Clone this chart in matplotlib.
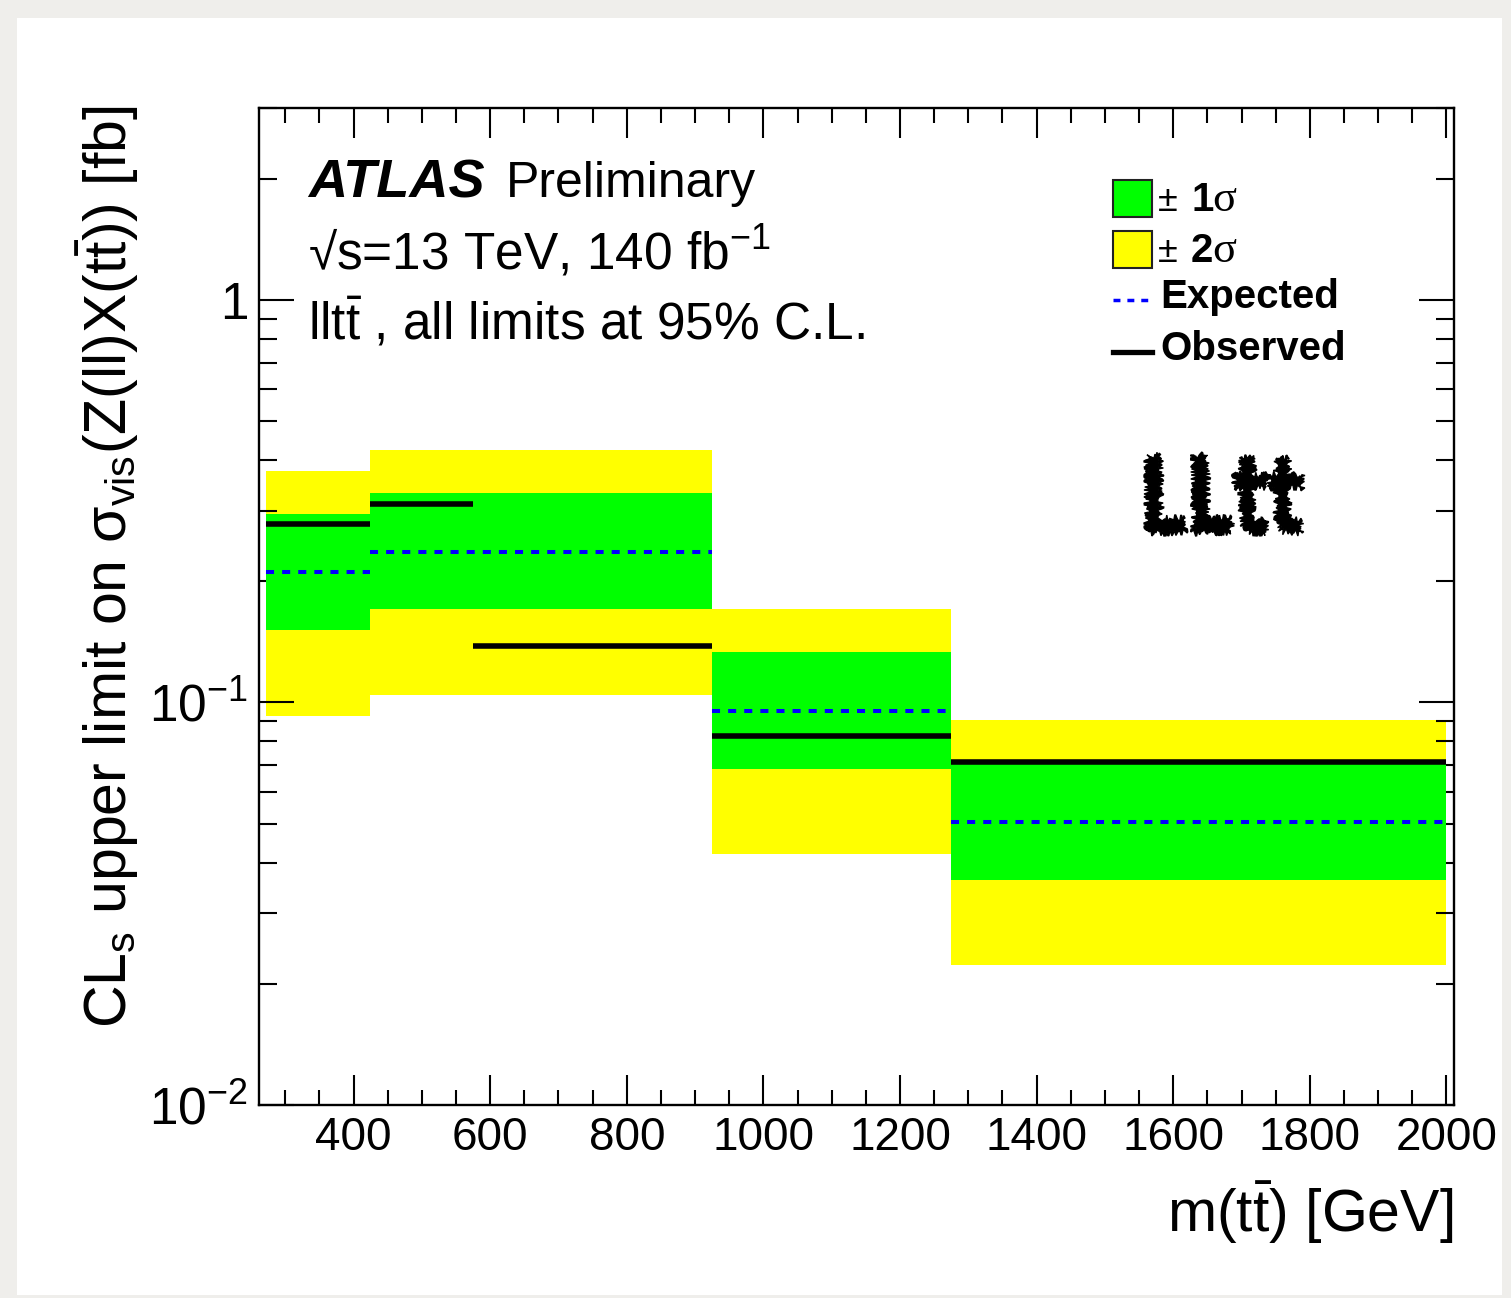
import matplotlib
matplotlib.use('Agg')
import matplotlib.pyplot as plt
import numpy as np
from matplotlib.patches import Rectangle, PathPatch
from matplotlib.lines import Line2D
from matplotlib.textpath import TextPath
from matplotlib.font_manager import FontProperties
from matplotlib.transforms import Affine2D
from matplotlib.ticker import FixedLocator, MultipleLocator, LogLocator, NullFormatter

plt.rcParams['font.family'] = ['Liberation Sans', 'DejaVu Sans']
plt.rcParams['mathtext.fontset'] = 'custom'
plt.rcParams['mathtext.rm'] = 'Liberation Sans'
plt.rcParams['mathtext.it'] = 'Liberation Sans:italic'
plt.rcParams['mathtext.bf'] = 'Liberation Sans:bold'

# m(tt) bin edges [GeV] and limits [fb]
obs_edges = [272, 424, 575, 925, 1275, 2000]
observed = [0.277, 0.312, 0.138, 0.0826, 0.0712]

band_edges = [272, 424, 925, 1275, 2000]
expected = [0.211, 0.237, 0.0954, 0.0504]
one_sigma_lo = [0.1517, 0.1706, 0.0684, 0.0362]
one_sigma_hi = [0.2946, 0.331, 0.1332, 0.0705]
two_sigma_lo = [0.0928, 0.1043, 0.042, 0.0222]
two_sigma_hi = [0.377, 0.424, 0.171, 0.0902]

x_ticks = [400, 600, 800, 1000, 1200, 1400, 1600, 1800, 2000]
y_ticks = [0.01, 0.1, 1]
y_tick_labels = ['$10^{-2}$', '$10^{-1}$', '1']

W, H = 1511, 1298
fig = plt.figure(figsize=(W / 100, H / 100), dpi=100)
fig.patch.set_facecolor('#efeeeb')


def px(x, y):
    # pixel position (from top-left) -> figure fraction
    return x / W, (H - y) / H


# white canvas
fig.add_artist(Rectangle(px(17, 1295), (1502 - 17) / W, (1295 - 18) / H,
                         transform=fig.transFigure, fc='white', ec='none', zorder=0))

x0, y0 = px(259.3, 1104.7)
x1, y1 = px(1454, 108.3)
ax = fig.add_axes([x0, y0, x1 - x0, y1 - y0])
ax.set_yscale('log')

def step(v):
    return np.append(v, v[-1])

ax.fill_between(band_edges, step(two_sigma_lo), step(two_sigma_hi), step='post',
                color='#ffff00', lw=0, zorder=1)
ax.fill_between(band_edges, step(one_sigma_lo), step(one_sigma_hi), step='post',
                color='#00ff00', lw=0, zorder=2)
ax.hlines(expected, band_edges[:-1], band_edges[1:], colors='#0000ff',
          linestyles=(0, (2, 2)), lw=2.9, zorder=3)
ax.hlines(observed, obs_edges[:-1], obs_edges[1:], colors='black', lw=4, zorder=4)

ax.set_xlim(262, 2011)
ax.set_ylim(0.01, 3)

ax.xaxis.set_major_locator(FixedLocator(x_ticks))
ax.xaxis.set_minor_locator(MultipleLocator(50))
ax.set_yticks(y_ticks)
ax.set_yticklabels(y_tick_labels)
ax.yaxis.set_minor_locator(LogLocator(base=10, subs=np.arange(2, 10)))
ax.yaxis.set_minor_formatter(NullFormatter())

ax.tick_params(which='both', direction='in', top=True, right=True, width=1.5,
               labelsize=33)
ax.tick_params(axis='x', which='major', length=21.6, pad=8)
ax.tick_params(axis='x', which='minor', length=10.8)
ax.tick_params(axis='y', which='major', length=25, pad=8, labelsize=37)
ax.tick_params(axis='y', which='minor', length=13)
for s in ax.spines.values():
    s.set_linewidth(1.7)

# axis titles
fig.text(*px(1453, 1232), r'm(t$\bar{\mathrm{t}}$) [GeV]', fontsize=42.5,
         ha='right', va='baseline')
fig.text(*px(127, 106),
         r'CL$_{\mathrm{s}}$ upper limit on σ$_{\mathrm{vis}}$(Z(ll)X(t$\bar{\mathrm{t}}$)) [fb]',
         fontsize=42.5, rotation=90, rotation_mode='anchor', ha='right', va='baseline')

# ATLAS labels
fig.text(*px(308, 197), 'ATLAS', fontsize=39, fontweight='bold', fontstyle='italic',
         va='baseline')
fig.text(*px(506, 197), 'Preliminary', fontsize=36, va='baseline')
fig.text(*px(308, 270), '√s=13 TeV, 140 fb$^{\\mathregular{-1}}$', fontsize=37,
         va='baseline')
fig.text(*px(308, 340), r'llt$\bar{\mathrm{t}}$ , all limits at 95% C.L.', fontsize=37,
         va='baseline')

# legend
for ytop, col, num in [(180, '#00ff00', '1'), (231, '#ffff00', '2')]:
    fig.add_artist(Rectangle(px(1113, ytop + 37), 39 / W, 37 / H, transform=fig.transFigure,
                             fc=col, ec='#222222', lw=1.5, zorder=5))
    base = ytop + 31
    fig.text(*px(1158, base), '±', fontsize=26, va='baseline')
    fig.text(*px(1191, base), num, fontsize=29, fontweight='bold', va='baseline')
    fig.text(*px(1212, base), 'σ', fontsize=32, family='Liberation Serif', va='baseline')

fig.add_artist(Line2D([1113 / W, 1152 / W], [px(0, 300)[1]] * 2, transform=fig.transFigure,
                      color='#0000ff', lw=2.5, ls=(0, (2, 2))))
fig.text(*px(1160, 308), 'Expected', fontsize=29, fontweight='bold', va='baseline')
fig.add_artist(Line2D([1113 / W, 1152 / W], [px(0, 352)[1]] * 2, transform=fig.transFigure,
                      color='black', lw=3.8))
fig.text(*px(1160, 360), 'Observed', fontsize=29, fontweight='bold', va='baseline')

# hand-drawn "LLtt" tag
tp = TextPath((0, 0), 'LLtt', size=100, prop=FontProperties(family='DejaVu Sans', weight='bold'))
bb = tp.get_extents()
tr = (Affine2D().translate(-bb.x0, -bb.y0).scale(155 / bb.width / W, 78 / bb.height / H)
      .translate(*px(1147, 533)) + fig.transFigure)
tag = PathPatch(tp, transform=tr, fc='black', ec='black', lw=1.0, zorder=6)
tag.set_sketch_params(scale=3, length=3, randomness=20)
fig.add_artist(tag)

fig.savefig('out.png', dpi=100, facecolor=fig.get_facecolor())
